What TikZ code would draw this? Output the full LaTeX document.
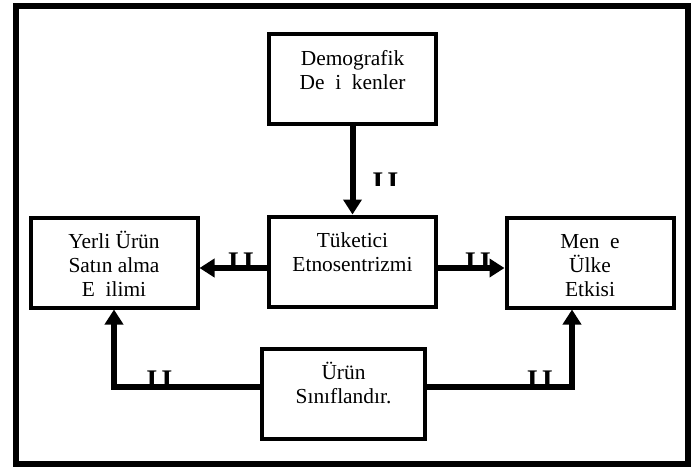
\documentclass[tikz,border=0pt]{standalone}
\usepackage{fontspec}
\setmainfont{Liberation Serif}
\usetikzlibrary{positioning,arrows.meta}

\tikzset{
  block/.style={draw, line width=2pt, align=center, inner sep=0pt,
    minimum width=83.5pt, font=\fontsize{10.7}{12}\selectfont},
  twolines/.style={text height=27.5pt, text depth=17.5pt},
  threelines/.style={text height=39.5pt, text depth=5.5pt},
  link/.style={line width=3pt, -{Triangle[length=7.5pt,width=9pt]}},
  hyp/.style={inner sep=0pt, anchor=north,
    font=\fontsize{14.2}{14}\selectfont\bfseries},
}

% cut-off path label: name, x, top y
\newcommand{\hyplabel}[3]{%
  \begin{scope}
    \clip (#2-20,#3-2) rectangle (#2+20,#3+13);
    \node[hyp] (#1) at (#2,#3) {I\hspace{2pt}I};
  \end{scope}}

\begin{document}
\begin{tikzpicture}[x=0.5pt, y=-0.5pt]
    \useasboundingbox (0,0) rectangle (700,467);
    \draw [line width=3pt] (16,6) rectangle (688,464);
    % boxes
    \node [block, twolines]   (demo)  at (352.5,79)    {Demografik\\De\ \ i\ \ kenler};
    \node [block, twolines]   (etno)  at (352.5,261.5) {Tüketici\\Etnosentrizmi};
    \node [block, threelines] (yerli) at (114,262.5)   {Yerli Ürün\\Satın alma\\E\ \ ilimi};
    \node [block, threelines] (mense) at (590,262.5)   {Men\ \ e\\Ülke\\Etkisi};
    \node [block, twolines, minimum width=81.5pt] (urun) at (343.5,393.5) {Ürün\\Sınıflandır.};
    % arrows
    \draw [link] (demo) -- (etno);
    \coordinate (lmid) at ([yshift=-3.25pt]etno.west);
    \draw [link] (lmid) -- (lmid -| yerli.east);
    \coordinate (rmid) at ([yshift=-3.25pt]etno.east);
    \draw [link] (rmid) -- (rmid -| mense.west);
    \coordinate (bl) at ([yshift=3.25pt]urun.west);
    \draw [link] (bl) -| (yerli.south);
    \coordinate (br) at ([yshift=3.25pt]urun.east);
    \draw [link] (br) -| ([xshift=-9pt]mense.south);
    % labels
    \hyplabel{hTop}{385.5}{172}
    \hyplabel{hLeft}{241}{252}
    \hyplabel{hRight}{478}{252}
    \hyplabel{hBotL}{159.5}{370}
    \hyplabel{hBotR}{540}{370}
\end{tikzpicture}
\end{document}
